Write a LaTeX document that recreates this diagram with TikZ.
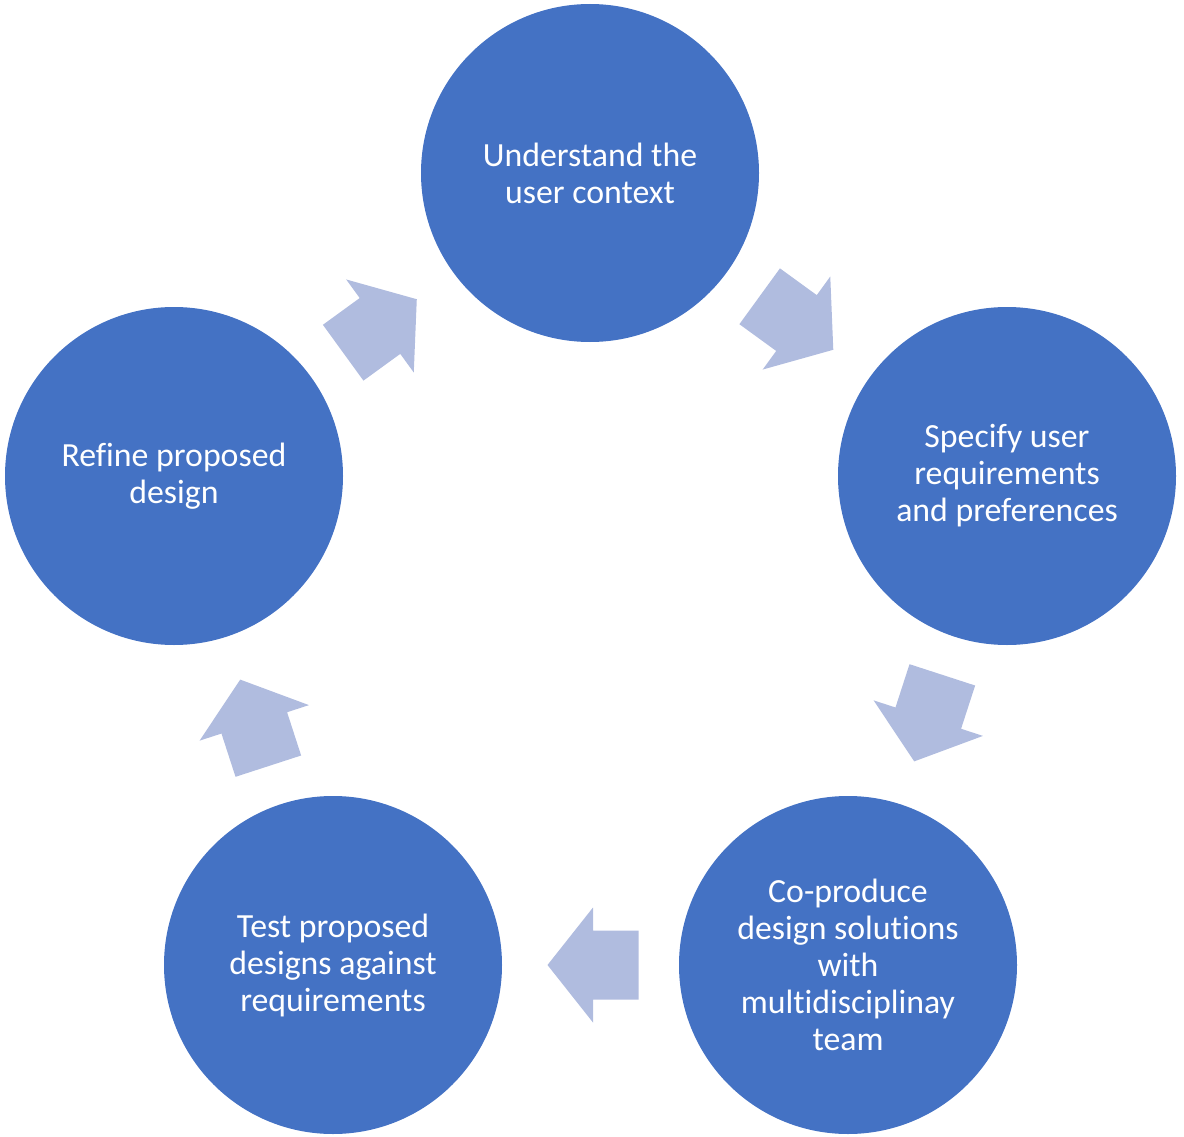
\documentclass[tikz,border=0pt]{standalone}
\usepackage{fontspec}
\setmainfont[Ligatures={CommonOff}]{Carlito}
\usetikzlibrary{calc}
\definecolor{circblue}{RGB}{68,114,196}
\definecolor{arrblue}{RGB}{176,188,223}
\tikzset{
  stage/.style={circle, fill=circblue, draw=none, minimum size=338pt, inner sep=0pt,
    text=white, align=center, font=\fontsize{33.8}{37}\selectfont},
  blockarrow/.style={fill=arrblue, draw=none}
}
\newcommand{\cyclearrow}[3]{%
  \fill[blockarrow, shift={($(#1)!0.5!(#2)$)}, rotate=#3]
    (-48,-34.5) -- (-2.5,-34.5) -- (-2.5,-57.5) -- (43,0) -- (-2.5,57.5) -- (-2.5,34.5) -- (-48,34.5) -- cycle;}
\begin{document}
\begin{tikzpicture}[x=1pt, y=-1pt]
\useasboundingbox (0,0) rectangle (1184,1137);
\node[stage] (top) at (590,173) {Understand the\\user context};
\node[stage] (right) at (1007,476) {Specify user\\requirements\\and preferences};
\node[stage] (br) at (848,965) {Co-produce\\design solutions\\with\\multidisciplinay\\team};
\node[stage] (bl) at (333,965) {Test proposed\\designs against\\requirements};
\node[stage] (left) at (174,476) {Refine proposed\\design};
\cyclearrow{top}{right}{-36}
\cyclearrow{right}{br}{-108}
\cyclearrow{br}{bl}{180}
\cyclearrow{bl}{left}{108}
\cyclearrow{left}{top}{36}
\end{tikzpicture}
\end{document}
